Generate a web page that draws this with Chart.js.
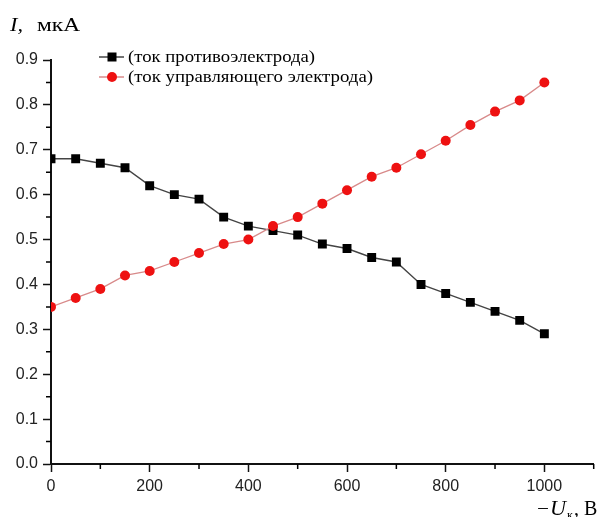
<!DOCTYPE html>
<html>
<head>
<meta charset="utf-8">
<script src="https://cdn.jsdelivr.net/npm/chart.js@4"></script>
<style>
  html, body { margin: 0; padding: 0; background: #fff; }
  #wrap { position: relative; width: 600px; height: 517px; }
</style>
</head>
<body>
<div id="wrap"><canvas id="chart" width="600" height="517"></canvas></div>
<script>
// -Uк, В
const voltage = [0, 50, 100, 150, 200, 250, 300, 350, 400, 450, 500, 550, 600, 650, 700, 750, 800, 850, 900, 950, 1000];
// ток противоэлектрода, мкА
const counterCurrent = [0.68, 0.68, 0.67, 0.66, 0.62, 0.60, 0.59, 0.55, 0.53, 0.52, 0.51, 0.49, 0.48, 0.46, 0.45, 0.40, 0.38, 0.36, 0.34, 0.32, 0.29];
// ток управляющего электрода, мкА
const controlCurrent = [0.35, 0.37, 0.39, 0.42, 0.43, 0.45, 0.47, 0.49, 0.50, 0.53, 0.55, 0.58, 0.61, 0.64, 0.66, 0.69, 0.72, 0.755, 0.785, 0.81, 0.85];
const seriesNames = ['(ток противоэлектрода)', '(ток управляющего электрода)'];
const xMinorTicks = [100, 300, 500, 700, 900, 1100];
const yMinorTicks = [0.05, 0.15, 0.25, 0.35, 0.45, 0.55, 0.65, 0.75, 0.85];

Chart.defaults.font.family = 'Liberation Sans';
const SERIF = '"Liberation Serif", "Times New Roman", serif';

function toPoints(ys) {
    return voltage.map(function(x, i) { return { x: x, y: ys[i] }; });
}

function isMajorX(v) { return v % 200 === 0; }
function isMajorY(v) { return Math.round(v * 100) % 10 === 0; }

// draws text squeezed/stretched to a given width
function fitText(ctx, text, x, y, width) {
    const w = ctx.measureText(text).width;
    ctx.save();
    ctx.translate(x, y);
    ctx.scale(width / w, 1);
    ctx.fillText(text, 0, 0);
    ctx.restore();
}

const decorPlugin = {
    id: 'decor',
    afterDraw: function(chart) {
        const ctx = chart.ctx;
        const xs = chart.scales.x, ys = chart.scales.y;
        ctx.save();

        // minor ticks
        ctx.strokeStyle = '#000';
        ctx.lineWidth = 1.5;
        ctx.beginPath();
        xMinorTicks.forEach(function(v) {
            const px = xs.getPixelForValue(v);
            ctx.moveTo(px, xs.top);
            ctx.lineTo(px, xs.top + 5);
        });
        yMinorTicks.forEach(function(v) {
            const py = ys.getPixelForValue(v);
            ctx.moveTo(ys.right, py);
            ctx.lineTo(ys.right - 5, py);
        });
        ctx.stroke();

        // y title: I, мкА
        ctx.fillStyle = '#000';
        ctx.textBaseline = 'alphabetic';
        ctx.textAlign = 'left';
        ctx.font = 'italic 18px ' + SERIF;
        fitText(ctx, 'I,', 10, 31, 13);
        ctx.font = '18px ' + SERIF;
        fitText(ctx, 'мкА', 37, 31, 43);

        // x title: −Uк, В
        ctx.font = '19px ' + SERIF;
        fitText(ctx, '\u2212', 537, 515, 12);
        ctx.font = 'italic 20px ' + SERIF;
        fitText(ctx, 'U', 550, 515, 16);
        ctx.font = '12px ' + SERIF;
        ctx.fillText('к', 567, 519);
        ctx.font = '20px ' + SERIF;
        ctx.fillText(', В', 574, 515);

        // legend
        const rows = [
            { y: 57, line: '#444', fill: '#000', shape: 'square', w: 187 },
            { y: 77, line: '#d88a8a', fill: '#ee1111', shape: 'circle', w: 245 }
        ];
        rows.forEach(function(r, i) {
            ctx.strokeStyle = r.line;
            ctx.lineWidth = 1.5;
            ctx.beginPath();
            ctx.moveTo(99, r.y);
            ctx.lineTo(124, r.y);
            ctx.stroke();
            ctx.fillStyle = r.fill;
            if (r.shape === 'square') {
                ctx.fillRect(107.5, r.y - 4.5, 9, 9);
            } else {
                ctx.beginPath();
                ctx.arc(112, r.y, 5, 0, Math.PI * 2);
                ctx.fill();
            }
            ctx.fillStyle = '#000';
            ctx.font = '17px ' + SERIF;
            ctx.textBaseline = 'middle';
            fitText(ctx, seriesNames[i], 128, r.y + 1, r.w);
        });
        ctx.restore();
    }
};

const tickFont = { family: 'Liberation Sans', size: 16 };

new Chart(document.getElementById('chart'), {
    type: 'scatter',
    data: {
        datasets: [{
            label: seriesNames[0],
            data: toPoints(counterCurrent),
            showLine: true,
            borderColor: '#444',
            borderWidth: 1.4,
            pointStyle: 'rect',
            pointRadius: 6.3,
            pointBackgroundColor: '#000',
            pointBorderColor: '#000',
            pointBorderWidth: 0,
            order: 2
        }, {
            label: seriesNames[1],
            data: toPoints(controlCurrent),
            showLine: true,
            borderColor: '#d88a8a',
            borderWidth: 1.3,
            pointStyle: 'circle',
            pointRadius: 5,
            pointBackgroundColor: '#ee1111',
            pointBorderColor: '#ee1111',
            pointBorderWidth: 0,
            order: 1
        }]
    },
    options: {
        responsive: false,
        animation: false,
        layout: { padding: { top: 60, right: 4.5, left: 0, bottom: 0 } },
        plugins: {
            legend: { display: false },
            tooltip: { enabled: false }
        },
        scales: {
            x: {
                type: 'linear',
                min: 0,
                max: 1100,
                border: { display: true, color: '#111', width: 2 },
                grid: {
                    drawOnChartArea: false,
                    drawTicks: true,
                    tickLength: 8,
                    tickWidth: 1.5,
                    tickColor: function(c) { return c.tick && isMajorX(c.tick.value) ? '#111' : 'rgba(0,0,0,0)'; }
                },
                ticks: {
                    stepSize: 100,
                    color: '#222',
                    font: tickFont,
                    padding: 5,
                    maxRotation: 0,
                    autoSkip: false,
                    callback: function(v) {
                        if (isMajorX(v) && v <= 1000) return String(v);
                        return '';
                    }
                },
                afterFit: function(scale) { scale.height = 53; }
            },
            y: {
                min: 0,
                max: 0.9,
                border: { display: true, color: '#111', width: 2 },
                grid: {
                    drawOnChartArea: false,
                    drawTicks: true,
                    tickLength: 8,
                    tickWidth: 1.5,
                    tickColor: function(c) { return c.tick && isMajorY(c.tick.value) ? '#111' : 'rgba(0,0,0,0)'; }
                },
                ticks: {
                    stepSize: 0.05,
                    color: '#222',
                    font: tickFont,
                    padding: 5,
                    autoSkip: false,
                    callback: function(v) {
                        if (isMajorY(v)) return (Math.round(v * 10) / 10).toFixed(1);
                        return '';
                    }
                },
                afterFit: function(scale) { scale.width = 51; }
            }
        }
    },
    plugins: [decorPlugin]
});
</script>
</body>
</html>
